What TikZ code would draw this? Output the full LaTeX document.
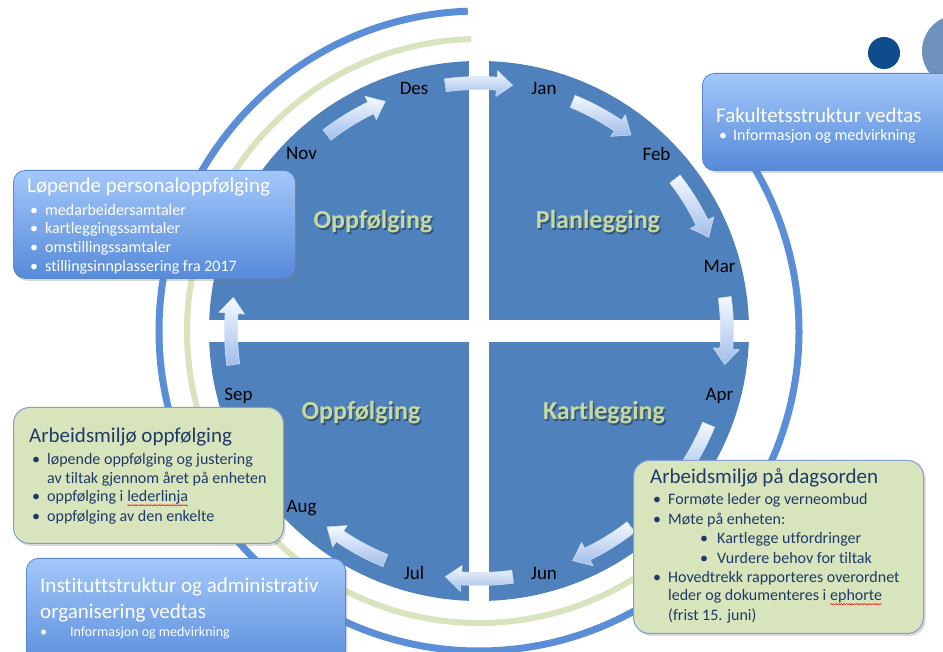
\documentclass[tikz,border=0pt]{standalone}
\usepackage{fontspec}
\setmainfont{Carlito}[Ligatures={NoCommon}]
\usetikzlibrary{shadows,decorations.pathmorphing}
\definecolor{circblue}{HTML}{4F81BD}
\definecolor{arcblue}{HTML}{5A8ED6}
\definecolor{arcgreen}{HTML}{D7E4BD}
\definecolor{qgreen}{HTML}{C6D99E}
\definecolor{boxgreen}{HTML}{D8E4BC}
\definecolor{boxedge}{HTML}{7F9FCF}
\definecolor{navy}{HTML}{1F3A68}
\definecolor{btop}{HTML}{A3C7FA}
\definecolor{bbot}{HTML}{568AD9}
\definecolor{bedge}{HTML}{5A87CC}
\definecolor{atop}{HTML}{F5F9FF}
\definecolor{abot}{HTML}{A0BDEA}
\definecolor{aedge}{HTML}{D5E2F5}
\definecolor{dotA}{HTML}{0F4C8C}
\definecolor{dotB}{HTML}{6E92BC}
\newcommand\ftitle{\fontsize{21}{25}\selectfont}
\newcommand\fitem{\fontsize{16}{19}\selectfont}
\newcommand\fsmall{\fontsize{14}{17}\selectfont}
\newcommand\fmonth{\fontsize{19}{22}\selectfont}
\newcommand\fquad{\fontsize{26}{30}\selectfont\bfseries}
\newcommand\squig[1]{\tikz[baseline=(sq.base)]{\node[inner sep=0pt,outer sep=0pt,anchor=base west](sq){#1};\draw[red,line width=0.5pt,decorate,decoration={snake,amplitude=0.6pt,segment length=2.6pt}] ([yshift=-1.5pt]sq.south west)--([yshift=-1.5pt]sq.south east);}}
\newcommand\carrow[1]{%
  \pgfmathsetmacro\ta{#1+7.8}%
  \pgfmathsetmacro\hb{#1-7.8+3.7}%
  \pgfmathsetmacro\tp{#1-7.8}%
  \path[arrowstyle] (\ta:254.5pt) arc[start angle=\ta, end angle=\hb, radius=254.5pt] -- (\hb:261pt) -- (\tp:248pt) -- (\hb:235pt) -- (\hb:241.5pt) arc[start angle=\hb, end angle=\ta, radius=241.5pt] -- cycle;
}
\begin{document}
\begin{tikzpicture}[x=1pt,y=1pt,
  bluebox/.style={draw=bedge, line width=0.8pt, rounded corners=12pt, top color=btop, bottom color=bbot, drop shadow={opacity=0.3, shadow xshift=2pt, shadow yshift=-2.5pt}, anchor=north west, inner sep=0pt},
  greenbox/.style={draw=boxedge, line width=1pt, fill=boxgreen, rounded corners=16pt, drop shadow={opacity=0.3, shadow xshift=2pt, shadow yshift=-2.5pt}, anchor=north west, inner sep=0pt},
  wtxt/.style={text=white, anchor=west, inner sep=0pt},
  ntxt/.style={text=navy, anchor=west, inner sep=0pt},
  month/.style={font=\fmonth, text=black, inner sep=0pt},
  qlabel/.style={font=\fquad, inner sep=0pt},
  arrowstyle/.style={top color=atop, bottom color=abot, draw=aedge, line width=0.5pt}]
\useasboundingbox (0,0) rectangle (943,651);
\fill[white] (0,0) rectangle (943,651);
% outer arcs
\begin{scope}[shift={(479,320)}]
\draw[arcblue, line width=7pt] (92:320pt) arc[start angle=92, end angle=395, radius=320pt];
\draw[arcgreen, line width=6pt] (91.5:292pt) arc[start angle=91.5, end angle=305, radius=292pt];
\fill[circblue] (0,0) circle[radius=270pt];
\end{scope}
% white cross
\fill[white] (469,40) rectangle (489,600);
\fill[white] (200,309) rectangle (760,331);
% arrows
\begin{scope}[shift={(479,320)}]
\carrow{120}\carrow{90}\carrow{60}\carrow{30}\carrow{0}\carrow{-30}
\carrow{-60}\carrow{-90}\carrow{-120}\carrow{180}
\node[month] (des) at (105:251pt) {Des};
\node[month] (jan) at (75:251pt) {Jan};
\node[month] (nov) at (135:251pt) {Nov};
\node[month] (feb) at (45:251pt) {Feb};
\node[month] (mar) at (15:249pt) {Mar};
\node[month] (apr) at (-15:249pt) {Apr};
\node[month] (sep) at (-165:249pt) {Sep};
\node[month] (aug) at (-135:251pt) {Aug};
\node[month] (jul) at (-105:251pt) {Jul};
\node[month] (jun) at (-75:251pt) {Jun};
\end{scope}
% quadrant labels
\node[qlabel, text=black, opacity=0.35] (q1s) at (374.5,427.5) {Oppfølging};
\node[qlabel, text=qgreen] (q1) at (373,429) {Oppfølging};
\node[qlabel, text=black, opacity=0.35] (q2s) at (599.5,427.5) {Planlegging};
\node[qlabel, text=qgreen] (q2) at (598,429) {Planlegging};
\node[qlabel, text=black, opacity=0.35] (q3s) at (362.5,236.5) {Oppfølging};
\node[qlabel, text=qgreen] (q3) at (361,238) {Oppfølging};
\node[qlabel, text=black, opacity=0.35] (q4s) at (605.5,236.5) {Kartlegging};
\node[qlabel, text=qgreen] (q4) at (604,238) {Kartlegging};
% dots top right
\fill[dotA] (884,598) circle[radius=16pt];
\fill[dotB] (958,600) circle[radius=36pt];
% Fakultet box
\node[bluebox, minimum width=252pt, minimum height=97pt] (fak) at (702,578) {};
\node[wtxt, font=\ftitle] (fakT) at (716,536) {Fakultetsstruktur vedtas};
\node[wtxt, font=\fitem] (fakB) at (719,515) {\makebox[14pt][l]{\textbullet}Informasjon og medvirkning};
% Lopende box
\node[bluebox, minimum width=282pt, minimum height=108pt] (lop) at (13,481) {};
\node[wtxt, font=\ftitle] (lopT) at (27,463.5) {Løpende personaloppfølging};
\node[wtxt, font=\fitem] (lop1) at (30,441) {\makebox[15pt][l]{\textbullet}medarbeidersamtaler};
\node[wtxt, font=\fitem] (lop2) at (30,422) {\makebox[15pt][l]{\textbullet}kartleggingssamtaler};
\node[wtxt, font=\fitem] (lop3) at (30,403) {\makebox[15pt][l]{\textbullet}omstillingssamtaler};
\node[wtxt, font=\fitem] (lop4) at (30,384) {\makebox[15pt][l]{\textbullet}stillingsinnplassering fra 2017};
% Arbeidsmiljo oppfolging
\node[greenbox, minimum width=270pt, minimum height=136pt] (arb) at (13,244) {};
\node[ntxt, font=\ftitle] (arbT) at (29,214) {Arbeidsmiljø oppfølging};
\node[ntxt, font=\fitem] (arb1) at (32,191) {\makebox[15pt][l]{\textbullet}løpende oppfølging og justering};
\node[ntxt, font=\fitem] (arb1b) at (47,172) {av tiltak gjennom året på enheten};
\node[ntxt, font=\fitem] (arb2) at (32,153) {\makebox[15pt][l]{\textbullet}oppfølging i \squig{lederlinja}};
\node[ntxt, font=\fitem] (arb3) at (32,134) {\makebox[15pt][l]{\textbullet}oppfølging av den enkelte};
% Arbeidsmiljo pa dagsorden
\node[greenbox, minimum width=290pt, minimum height=173pt] (dag) at (633,191) {};
\node[ntxt, font=\ftitle] (dagT) at (650,173) {Arbeidsmiljø på dagsorden};
\node[ntxt, font=\fitem] (dag1) at (653,151) {\makebox[15pt][l]{\textbullet}Formøte leder og verneombud};
\node[ntxt, font=\fitem] (dag2) at (653,131) {\makebox[15pt][l]{\textbullet}Møte på enheten:};
\node[ntxt, font=\fitem] (dag3) at (700,112) {\makebox[17pt][l]{\textbullet}Kartlegge utfordringer};
\node[ntxt, font=\fitem] (dag4) at (700,93) {\makebox[17pt][l]{\textbullet}Vurdere behov for tiltak};
\node[ntxt, font=\fitem] (dag5) at (653,73) {\makebox[15pt][l]{\textbullet}Hovedtrekk rapporteres overordnet};
\node[ntxt, font=\fitem] (dag5b) at (668,54) {leder og dokumenteres i \squig{ephorte}};
\node[ntxt, font=\fitem] (dag5c) at (668,35) {(frist 15. juni)};
% Instituttstruktur
\node[bluebox, minimum width=319pt, minimum height=115pt] (ins) at (26,93) {};
\node[wtxt, font=\ftitle] (insT1) at (40,64) {Instituttstruktur og administrativ};
\node[wtxt, font=\ftitle] (insT2) at (40,38) {organisering vedtas};
\node[wtxt, font=\fsmall] (insB) at (40,18) {\makebox[30pt][l]{\textbullet}Informasjon og medvirkning};
\end{tikzpicture}
\end{document}
